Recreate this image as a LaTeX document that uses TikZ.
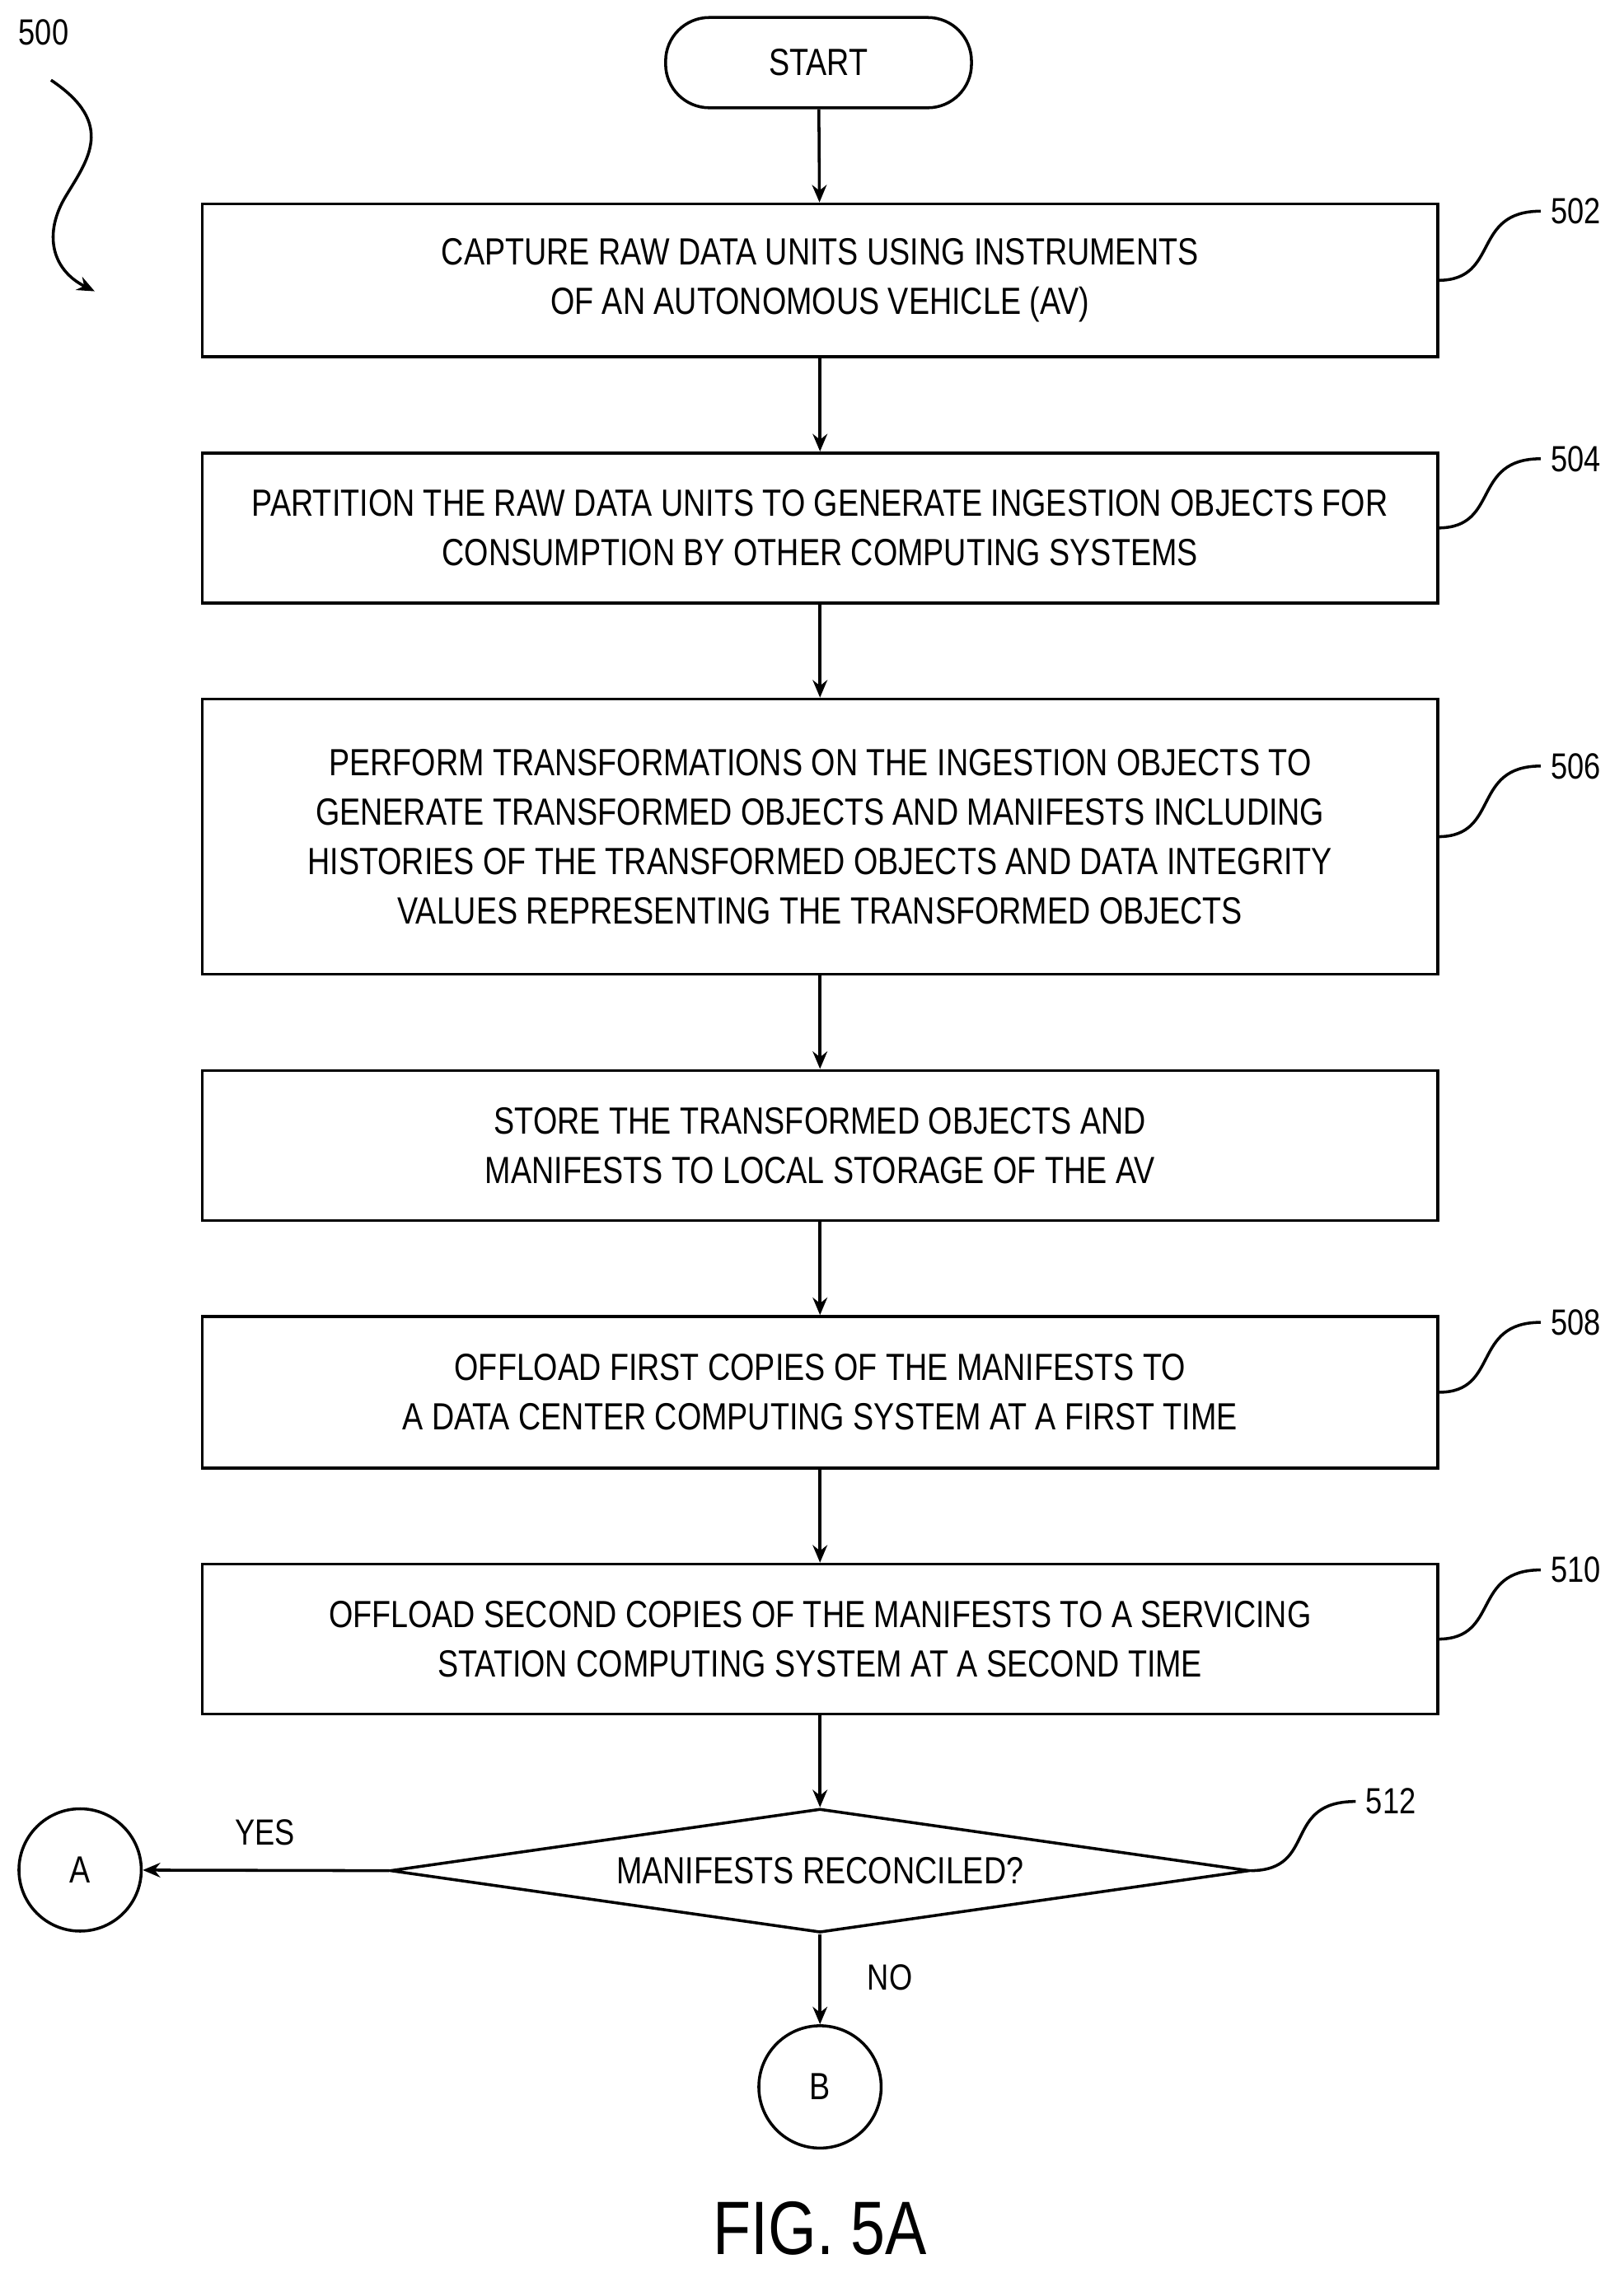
\documentclass[tikz,border=0pt]{standalone}
\usepackage{fontspec}
\setmainfont[FakeStretch=0.82]{Liberation Sans}
\usetikzlibrary{shapes.geometric,arrows.meta}
\begin{document}
\begin{tikzpicture}[x=0.5pt,y=-0.5pt,
  box/.style={draw,line width=1pt,minimum width=424pt,align=center,font=\fontsize{13}{17}\selectfont,inner sep=0pt},
  lbl/.style={font=\fontsize{12.5}{14}\selectfont},
  arr/.style={-{Stealth[length=6pt,width=5pt]},line width=1pt},
  circ/.style={draw,circle,line width=1pt,minimum size=42pt,inner sep=0pt,font=\fontsize{13}{14}\selectfont},
  sq/.style={line width=1pt}]
\useasboundingbox (0,0) rectangle (1115,1570.4);
\node[draw,rounded corners=15pt,line width=1pt,minimum width=105pt,minimum height=31pt,font=\fontsize{13}{14}\selectfont] (start) at (562,43) {START};
\node[box,minimum height=52.5pt] (b502) at (563,192.5) {CAPTURE RAW DATA UNITS USING INSTRUMENTS\\OF AN AUTONOMOUS VEHICLE (AV)};
\node[box,minimum height=51.5pt] (b504) at (563,362.5) {PARTITION THE RAW DATA UNITS TO GENERATE INGESTION OBJECTS FOR\\CONSUMPTION BY OTHER COMPUTING SYSTEMS};
\node[box,minimum height=94.5pt] (b506) at (563,574.5) {PERFORM TRANSFORMATIONS ON THE INGESTION OBJECTS TO\\GENERATE TRANSFORMED OBJECTS AND MANIFESTS INCLUDING\\HISTORIES OF THE TRANSFORMED OBJECTS AND DATA INTEGRITY\\VALUES REPRESENTING THE TRANSFORMED OBJECTS};
\node[box,minimum height=51.5pt] (bst) at (563,786.5) {STORE THE TRANSFORMED OBJECTS AND\\MANIFESTS TO LOCAL STORAGE OF THE AV};
\node[box,minimum height=52pt] (b508) at (563,956) {OFFLOAD FIRST COPIES OF THE MANIFESTS TO\\A DATA CENTER COMPUTING SYSTEM AT A FIRST TIME};
\node[box,minimum height=51.5pt] (b510) at (563,1125.5) {OFFLOAD SECOND COPIES OF THE MANIFESTS TO A SERVICING\\STATION COMPUTING SYSTEM AT A SECOND TIME};
\node[draw,diamond,aspect=6.9,line width=1pt,minimum width=295pt,minimum height=42.5pt,inner sep=0pt,font=\fontsize{13}{14}\selectfont] (d512) at (563,1284.5) {MANIFESTS RECONCILED?};
\node[circ] (A) at (55,1284) {A};
\node[circ] (B) at (563,1433) {B};
\node[font=\fontsize{26}{30}\selectfont] (fig) at (563,1530) {FIG. 5A};
\node[lbl] (l500) at (30,22) {500};
\node[lbl] (l502) at (1082,145) {502};
\node[lbl] (l504) at (1082,315) {504};
\node[lbl] (l506) at (1082,526) {506};
\node[lbl] (l508) at (1082,908) {508};
\node[lbl] (l510) at (1082,1078) {510};
\node[lbl] (l512) at (955,1237) {512};
\node[lbl] (yes) at (182,1258) {YES};
\node[lbl] (no) at (611,1358) {NO};
\draw[arr] (start) -- (b502);
\draw[arr] (b502) -- (b504);
\draw[arr] (b504) -- (b506);
\draw[arr] (b506) -- (bst);
\draw[arr] (bst) -- (b508);
\draw[arr] (b508) -- (b510);
\draw[arr] (b510) -- (d512.north);
\draw[arr] (d512.west) -- (A);
\draw[arr] (d512.south) -- (B);
\draw[arr] (35,55) .. controls (80,85) and (60,110) .. (45,135) .. controls (30,160) and (35,185) .. (65,200);
\draw[sq] (b502.east) .. controls (1030,192) and (1010,145) .. (l502.west);
\draw[sq] (b504.east) .. controls (1030,362) and (1010,315) .. (l504.west);
\draw[sq] (b506.east) .. controls (1030,574) and (1010,526) .. (l506.west);
\draw[sq] (b508.east) .. controls (1030,956) and (1010,908) .. (l508.west);
\draw[sq] (b510.east) .. controls (1030,1125) and (1010,1078) .. (l510.west);
\draw[sq] (d512.east) .. controls (905,1284) and (880,1237) .. (l512.west);
\end{tikzpicture}
\end{document}
